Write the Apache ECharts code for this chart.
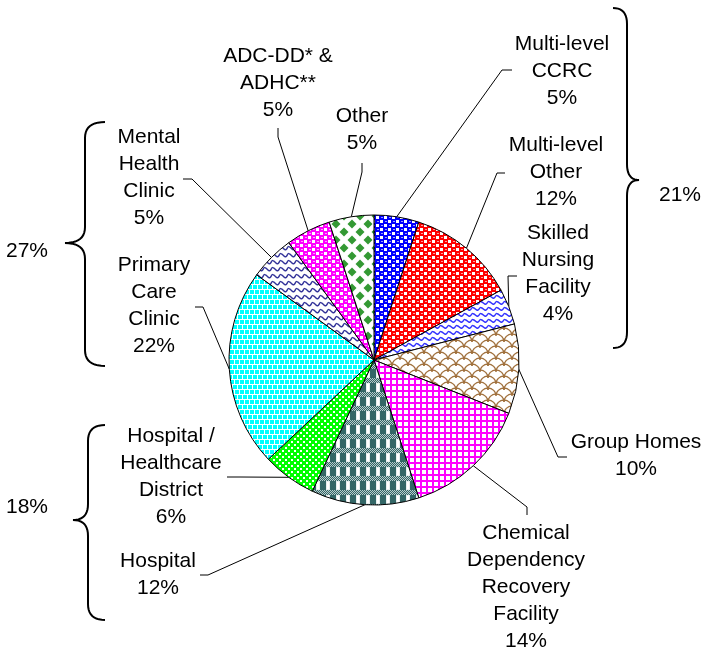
<!DOCTYPE html>
<html><head><meta charset="utf-8">
<script src="https://cdn.jsdelivr.net/npm/echarts@6/dist/echarts.min.js"></script>
<style>html,body{margin:0;padding:0;background:#fff}#c{width:704px;height:649px}</style>
</head><body><div id="c"></div>
<script>
// ---- data ----
const categories = [
  'Multi-level\nCCRC', 'Multi-level\nOther', 'Skilled\nNursing\nFacility', 'Group Homes',
  'Chemical\nDependency\nRecovery\nFacility', 'Hospital', 'Hospital /\nHealthcare\nDistrict',
  'Primary\nCare\nClinic', 'Mental\nHealth\nClinic', 'ADC-DD* &\nADHC**', 'Other'
];
const values = [5, 12, 4, 10, 14, 12, 6, 22, 5, 5, 5];
// bracketed groups (indices into categories)
const groupMembers = [[0, 1, 2], [8, 7], [6, 5]];

// ---- layout (positions only) ----
const CX = 374, CY = 360, R = 145;
const labelPos = [[562,71],[556,172],[558,274],[636,456],[526,587],[158,575],[171,477],[154,306],[149,178],[278,83],[362,130]];
const leaderKnee = [
  [[502,70],[512,70]], [[497,173],[505,173]], [[508,276],[517,276]], [[558,457],[567,457]],
  [[527,507],[527,515]], [[208,575],[200,575]], [[240,477],[227,477]], [[203,307],[195,307]],
  [[192,179],[183,179]], [[278,137],[278,128]], [[362,172],[362,163]]
];
const braceDefs = [
  {x0:613, xb:627, xt:639, y0:8,  ym:180, y1:348, tx:680, ty:195},
  {x0:105, xb:85,  xt:65,  y0:122, ym:243, y1:366, tx:27, ty:251},
  {x0:105, xb:88,  xt:73,  y0:425, ym:520, y1:620, tx:27, ty:507}
];

// ---- patterns ----
function mk(w, h, draw) {
  const c = document.createElement('canvas'); c.width = w; c.height = h;
  const g = c.getContext('2d'); draw(g, w, h);
  return { image: c, repeat: 'repeat' };
}
function balls(col, hi) {
  return mk(8, 8, g => {
    g.fillStyle = col; g.fillRect(0, 0, 8, 8);
    g.fillStyle = '#fff'; g.fillRect(0, 0, 3, 3); g.fillRect(4, 4, 3, 3);
    g.fillStyle = hi; g.fillRect(5, 1, 2, 1); g.fillRect(1, 5, 2, 1);
  });
}
function waves(col, h) {
  return mk(8, h, g => {
    g.fillStyle = '#fff'; g.fillRect(0, 0, 8, h);
    g.strokeStyle = col; g.lineWidth = 1.4;
    g.beginPath(); g.moveTo(0, 1.5);
    g.quadraticCurveTo(2, 1.5, 4, h / 2 + 0.5); g.quadraticCurveTo(6, h - 0.5, 8, 1.5);
    g.stroke();
  });
}
const pats = [
  balls('#0000ff', '#9999ff'),
  balls('#ff0000', '#ff9999'),
  waves('#3333ff', 6),
  mk(16, 12, g => {
    g.fillStyle = '#fff'; g.fillRect(0, 0, 16, 12);
    g.strokeStyle = '#a0703c'; g.lineWidth = 1.3;
    const arc = (x, y) => { g.beginPath(); g.arc(x, y, 8, Math.PI, 2 * Math.PI); g.stroke(); };
    arc(8, 12); arc(0, 6); arc(16, 6); arc(0, 18); arc(16, 18);
  }),
  mk(6, 6, g => {
    g.fillStyle = '#fff'; g.fillRect(0, 0, 6, 6);
    g.fillStyle = '#ff00ff'; g.fillRect(0, 0, 6, 2); g.fillRect(0, 0, 2, 6);
  }),
  mk(10, 14, g => {
    g.fillStyle = '#fff'; g.fillRect(0, 0, 10, 14);
    for (let y = 0; y < 5; y++) for (let x = 0; x < 10; x++) {
      g.fillStyle = (x + y) % 2 ? '#336666' : '#b8cccc'; g.fillRect(x, y, 1, 1);
    }
    g.fillStyle = '#336666'; g.fillRect(0, 5, 6, 9);
    g.fillStyle = '#e6eeee'; g.fillRect(6, 5, 4, 9);
    g.fillStyle = '#fff'; g.fillRect(7, 6, 2, 7);
  }),
  mk(6, 6, g => {
    g.fillStyle = '#00ff00'; g.fillRect(0, 0, 6, 6);
    g.fillStyle = '#fff'; g.fillRect(0, 0, 2, 2); g.fillRect(3, 3, 2, 2);
  }),
  mk(10, 10, g => {
    g.fillStyle = '#fff'; g.fillRect(0, 0, 10, 10);
    g.fillStyle = '#00ffff';
    [[0,0],[5,0],[3,5],[8,5],[-2,5]].forEach(p => g.fillRect(p[0], p[1], 4, 4));
  }),
  waves('#333399', 7),
  balls('#ff00ff', '#ff99ff'),
  mk(16, 16, g => {
    g.fillStyle = '#fff'; g.fillRect(0, 0, 16, 16);
    g.fillStyle = '#339933';
    const d = (x, y) => { g.beginPath(); g.moveTo(x, y - 4.5); g.lineTo(x + 4.5, y); g.lineTo(x, y + 4.5); g.lineTo(x - 4.5, y); g.closePath(); g.fill(); };
    d(8, 8); d(0, 0); d(16, 0); d(0, 16); d(16, 16);
  })
];

// ---- derived ----
const total = values.reduce((a, b) => a + b, 0);
const cum = []; values.reduce((s, v, i) => (cum[i] = s, s + v), 0);
function anchor(i) {
  const a = (cum[i] + values[i] / 2) / total * 2 * Math.PI;
  return [CX + R * Math.sin(a), CY - R * Math.cos(a)];
}
function quad(pts, p0, c, p1) {
  for (let t = 0; t <= 1.0001; t += 0.1) {
    const u = 1 - t;
    pts.push([u * u * p0[0] + 2 * u * t * c[0] + t * t * p1[0], u * u * p0[1] + 2 * u * t * c[1] + t * t * p1[1]]);
  }
}

const FONT = 'Liberation Sans, Arial, sans-serif';
const graphics = [];
braceDefs.forEach((b, k) => {
  const c = 16, pts = [];
  quad(pts, [b.x0, b.y0], [b.xb, b.y0], [b.xb, b.y0 + c]);
  quad(pts, [b.xb, b.ym - c], [b.xb, b.ym], [b.xt, b.ym]);
  quad(pts, [b.xt, b.ym], [b.xb, b.ym], [b.xb, b.ym + c]);
  quad(pts, [b.xb, b.y1 - c], [b.xb, b.y1], [b.x0, b.y1]);
  graphics.push({ type: 'polyline', shape: { points: pts }, style: { fill: null, stroke: '#000', lineWidth: 2 } });
  const sum = groupMembers[k].reduce((a, i) => a + values[i], 0);
  graphics.push({ type: 'text', x: b.tx, y: b.ty, style: { text: sum + '%', font: '21px ' + FONT, fill: '#000', align: 'center', verticalAlign: 'middle' } });
});

const chart = echarts.init(document.getElementById('c'), null, { renderer: 'canvas' });
chart.setOption({
  animation: false,
  backgroundColor: '#fff',
  graphic: graphics,
  series: [{
    type: 'pie',
    center: [CX, CY],
    radius: R,
    startAngle: 90,
    clockwise: true,
    avoidLabelOverlap: false,
    silent: true,
    data: categories.map((n, i) => ({ name: n, value: values[i], itemStyle: { color: pats[i] } })),
    itemStyle: { borderColor: '#000', borderWidth: 1 },
    label: {
      show: true, position: 'outside', formatter: '{b}\n{c}%',
      fontFamily: FONT, fontSize: 21, lineHeight: 27, color: '#000', align: 'center'
    },
    labelLine: { show: true, length: 10, length2: 10, smooth: false, lineStyle: { color: '#000', width: 1 } },
    labelLayout: function (p) {
      const i = p.dataIndex;
      return {
        x: labelPos[i][0], y: labelPos[i][1], align: 'center', verticalAlign: 'middle',
        hideOverlap: false,
        labelLinePoints: [anchor(i), leaderKnee[i][0], leaderKnee[i][1]]
      };
    }
  }]
});
</script></body></html>
